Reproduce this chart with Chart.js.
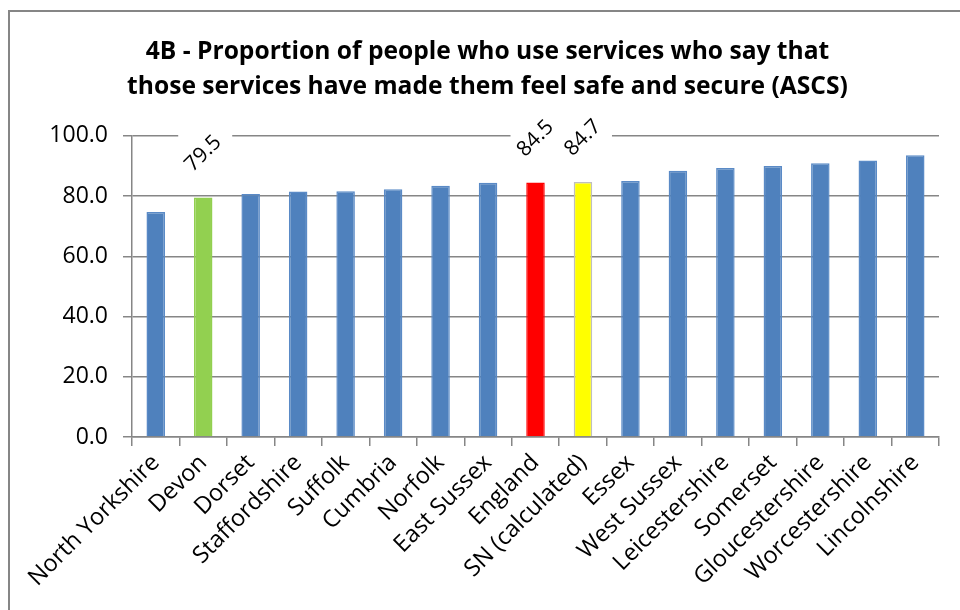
<!DOCTYPE html>
<html>
<head>
<meta charset="utf-8">
<script src="https://cdn.jsdelivr.net/npm/chart.js@4.4.1/dist/chart.umd.min.js"></script>
<style>
  html, body { margin: 0; padding: 0; background: #fff; }
  #wrap { width: 960px; height: 610px; position: relative; }
</style>
</head>
<body>
<div id="wrap"><canvas id="myChart"></canvas></div>
<script>
// areas, sorted low to high
const areas = ['North Yorkshire', 'Devon', 'Dorset', 'Staffordshire', 'Suffolk', 'Cumbria',
    'Norfolk', 'East Sussex', 'England', 'SN (calculated)', 'Essex', 'West Sussex',
    'Leicestershire', 'Somerset', 'Gloucestershire', 'Worcestershire', 'Lincolnshire']
const percent = [74.7, 79.5, 80.7, 81.5, 81.6, 82.3, 83.4, 84.4, 84.5, 84.7, 85.0, 88.4,
    89.3, 90.0, 90.9, 91.8, 93.6]
// bars that get their value written above them
const labelled = ['Devon', 'England', 'SN (calculated)']
const yTicks = [0, 20, 40, 60, 80, 100]

const grey = '#868686'
const fontName = '"Open Sans"'

function barColour(name) {
    if (name == 'Devon') return '#92D050'
    if (name == 'England') return '#FF0000'
    if (name == 'SN (calculated)') return '#FFFF00'
    return '#4F81BD'
}
function barBorder(name) {
    if (name == 'SN (calculated)') return '#BFBFBF'
    if (name == 'Devon' || name == 'England') return barColour(name)
    return '#5A8AC6'
}

// value labels, turned 45 degrees with a white box behind
const valueLabels = {
    id: 'valueLabels',
    afterDatasetsDraw(chart) {
        const ctx = chart.ctx
        const meta = chart.getDatasetMeta(0)
        ctx.save()
        ctx.font = '21px ' + fontName
        for (let i in areas) {
            if (labelled.indexOf(areas[i]) < 0) continue
            const bar = meta.data[i]
            const cx = bar.x
            const cy = bar.y - 44
            ctx.fillStyle = '#fff'
            ctx.fillRect(cx - 25, cy - 22, 54, 44)
            ctx.translate(cx, cy)
            ctx.rotate(-Math.PI / 4)
            ctx.fillStyle = '#000'
            ctx.textAlign = 'center'
            ctx.textBaseline = 'middle'
            ctx.fillText(percent[i].toFixed(1), 0, 0)
            ctx.setTransform(1, 0, 0, 1, 0, 0)
        }
        ctx.restore()
    }
}

// frame round the whole chart
const frame = {
    id: 'frame',
    afterDraw(chart) {
        const ctx = chart.ctx
        ctx.save()
        ctx.strokeStyle = grey
        ctx.lineWidth = 2
        ctx.strokeRect(9, 11, 1000, 1000)
        ctx.restore()
    }
}

const ctx = document.getElementById('myChart').getContext('2d')
const myChart = new Chart(ctx, {
    type: 'bar',
    data: {
        labels: areas,
        datasets: [{
            data: percent,
            backgroundColor: areas.map(barColour),
            borderColor: areas.map(barBorder),
            borderWidth: 1.5,
            barPercentage: 0.39,
            categoryPercentage: 1
        }]
    },
    plugins: [valueLabels, frame],
    options: {
        responsive: true,
        maintainAspectRatio: false,
        animation: false,
        layout: { padding: { left: 36, right: 21, top: 0, bottom: 0 } },
        plugins: {
            legend: { display: false },
            tooltip: { enabled: false },
            title: {
                display: true,
                text: ['4B - Proportion of people who use services who say that',
                    'those services have made them feel safe and secure (ASCS)'],
                color: '#000',
                font: { family: fontName, size: 24.6, weight: 'bold', lineHeight: 1.42 },
                padding: { top: 35, bottom: 31 }
            }
        },
        scales: {
            x: {
                grid: { drawOnChartArea: false, color: grey, lineWidth: 1.5, tickLength: 9 },
                border: { color: grey, width: 1.5 },
                ticks: {
                    color: '#000',
                    font: { family: fontName, size: 23.5 },
                    minRotation: 45,
                    maxRotation: 45,
                    autoSkip: false,
                    padding: 3
                },
                afterFit(scale) { scale.height = 173 }
            },
            y: {
                min: 0,
                max: 100,
                afterBuildTicks(scale) { scale.ticks = yTicks.map(v => ({ value: v })) },
                grid: { color: grey, lineWidth: 1.5, tickLength: 9 },
                border: { color: grey, width: 1.5 },
                ticks: {
                    color: '#000',
                    font: { family: fontName, size: 23 },
                    padding: 15,
                    callback: v => v.toFixed(1)
                },
                afterFit(scale) { scale.width = 96 }
            }
        }
    }
})
</script>
</body>
</html>
